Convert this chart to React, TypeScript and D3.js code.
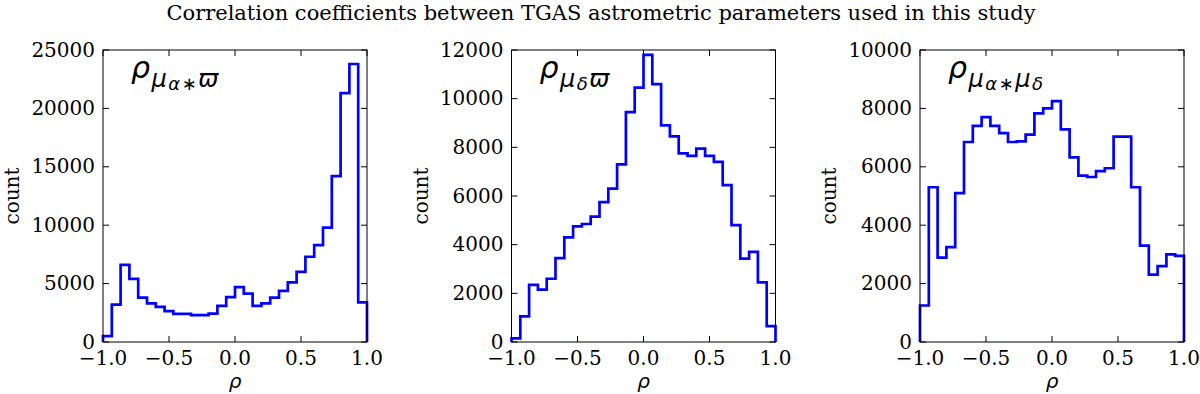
import React from "react";
import * as d3 from "d3";

// histogram counts, 30 bins over [-1, 1]
const countsRaPlx = [
  500, 3200, 6600, 5400, 3800, 3300, 3000, 2650, 2400, 2400, 2300, 2300, 2430, 3100, 3850,
  4700, 4150, 3100, 3300, 3800, 4370, 5100, 6000, 7300, 8300, 9800, 14200, 21300, 23800, 3400,
];
const countsDecPlx = [
  150, 1050, 2350, 2150, 2600, 3450, 4300, 4750, 4850, 5150, 5750, 6300, 7300, 9450, 10450,
  11800, 10600, 8900, 8450, 7750, 7650, 7950, 7650, 7400, 6450, 4800, 3430, 3700, 2450, 650,
];
const countsRaDec = [
  1250, 5300, 2890, 3250, 5100, 6850, 7400, 7700, 7400, 7150, 6850, 6870, 7100, 7830, 8000,
  8250, 7280, 6320, 5700, 5650, 5850, 5950, 7030, 7030, 5300, 3300, 2310, 2600, 3000, 2950,
];

const yTicks1 = [0, 5000, 10000, 15000, 20000, 25000];
const yTicks2 = [0, 2000, 4000, 6000, 8000, 10000, 12000];
const yTicks3 = [0, 2000, 4000, 6000, 8000, 10000];
const xTicks = [-1.0, -0.5, 0.0, 0.5, 1.0];
const xTickLabels = ["\u22121.0", "\u22120.5", "0.0", "0.5", "1.0"];

const title = "Correlation coefficients between TGAS astrometric parameters used in this study";

// annotation pieces: [text, level] level 0 = base, 1 = sub, 2 = subsub
const label1: [string, number][] = [["ρ", 0], ["μ", 1], ["α", 2], ["∗", 2], ["ϖ", 1]];
const label2: [string, number][] = [["ρ", 0], ["μ", 1], ["δ", 2], ["ϖ", 1]];
const label3: [string, number][] = [["ρ", 0], ["μ", 1], ["α", 2], ["∗", 2], ["μ", 1], ["δ", 2]];

const W = 1200;
const H = 394;
const top = 50;
const bottom = 342;
const plotW = 264;
const lefts = [103, 511.5, 920];

const panels = [
  { counts: countsRaPlx, yTicks: yTicks1, label: label1 },
  { counts: countsDecPlx, yTicks: yTicks2, label: label2 },
  { counts: countsRaDec, yTicks: yTicks3, label: label3 },
];

const serif = "'DejaVu Serif', serif";
const sans = "'DejaVu Sans', sans-serif";
const levelSize = [30, 24, 18];
const levelY = [78, 87, 90];

function Panel({ left, counts, yTicks, label }: any) {
  const x = d3.scaleLinear().domain([-1, 1]).range([left, left + plotW]);
  const y = d3.scaleLinear().domain([0, yTicks[yTicks.length - 1]]).range([bottom, top]);
  const n = counts.length;
  const edges = d3.range(n + 1).map((i) => -1 + (2 * i) / n);

  const pts: [number, number][] = [[x(edges[0]), y(0)]];
  counts.forEach((c: number, i: number) => {
    pts.push([x(edges[i]), y(c)]);
    pts.push([x(edges[i + 1]), y(c)]);
  });
  pts.push([x(edges[n]), y(0)]);
  const path = d3.line()(pts) || "";

  const tl = 6;
  return (
    <g>
      {yTicks.map((t: number) => (
        <g key={"y" + t}>
          <line x1={left} x2={left + tl} y1={y(t)} y2={y(t)} stroke="#000" />
          <line x1={left + plotW - tl} x2={left + plotW} y1={y(t)} y2={y(t)} stroke="#000" />
          <text x={left - 8} y={y(t) + 6.5} textAnchor="end" fontSize={20} fontFamily={serif}>
            {t}
          </text>
        </g>
      ))}
      {xTicks.map((t, i) => (
        <g key={"x" + t}>
          <line x1={x(t)} x2={x(t)} y1={bottom} y2={bottom - tl} stroke="#000" />
          <line x1={x(t)} x2={x(t)} y1={top} y2={top + tl} stroke="#000" />
          <text x={x(t)} y={365} textAnchor="middle" fontSize={20} fontFamily={serif}>
            {xTickLabels[i]}
          </text>
        </g>
      ))}
      <path d={path} fill="none" stroke="#0000ff" strokeWidth={2.7} strokeLinejoin="miter" />
      <rect x={left} y={top} width={plotW} height={bottom - top} fill="none" stroke="#000" strokeWidth={1} />
      <text x={left + 28} y={levelY[0]} fontFamily={sans} fontStyle="italic">
        {label.map(([s, lv]: [string, number], i: number) => (
          <tspan
            key={i}
            y={levelY[lv]}
            dx={i === 0 ? 0 : 1.5}
            fontSize={levelSize[lv]}
            fontStyle={s === "∗" ? "normal" : "italic"}
          >
            {s}
          </tspan>
        ))}
      </text>
      <text
        transform={`translate(${left - 84},${(top + bottom) / 2}) rotate(-90)`}
        textAnchor="middle"
        fontSize={20}
        fontFamily={serif}
      >
        count
      </text>
      <text x={left + plotW / 2} y={388} textAnchor="middle" fontSize={20} fontFamily={sans} fontStyle="italic">
        ρ
      </text>
    </g>
  );
}

export default function App() {
  return (
    <svg
      width={W}
      height={H}
      style={{ position: "absolute", left: 0, top: 0, background: "#fff" }}
    >
      <rect width={W} height={H} fill="#fff" />
      <text x={601} y={19.5} textAnchor="middle" fontSize={21} fontFamily={serif}>
        {title}
      </text>
      {panels.map((p, i) => (
        <Panel key={i} left={lefts[i]} counts={p.counts} yTicks={p.yTicks} label={p.label} />
      ))}
    </svg>
  );
}
